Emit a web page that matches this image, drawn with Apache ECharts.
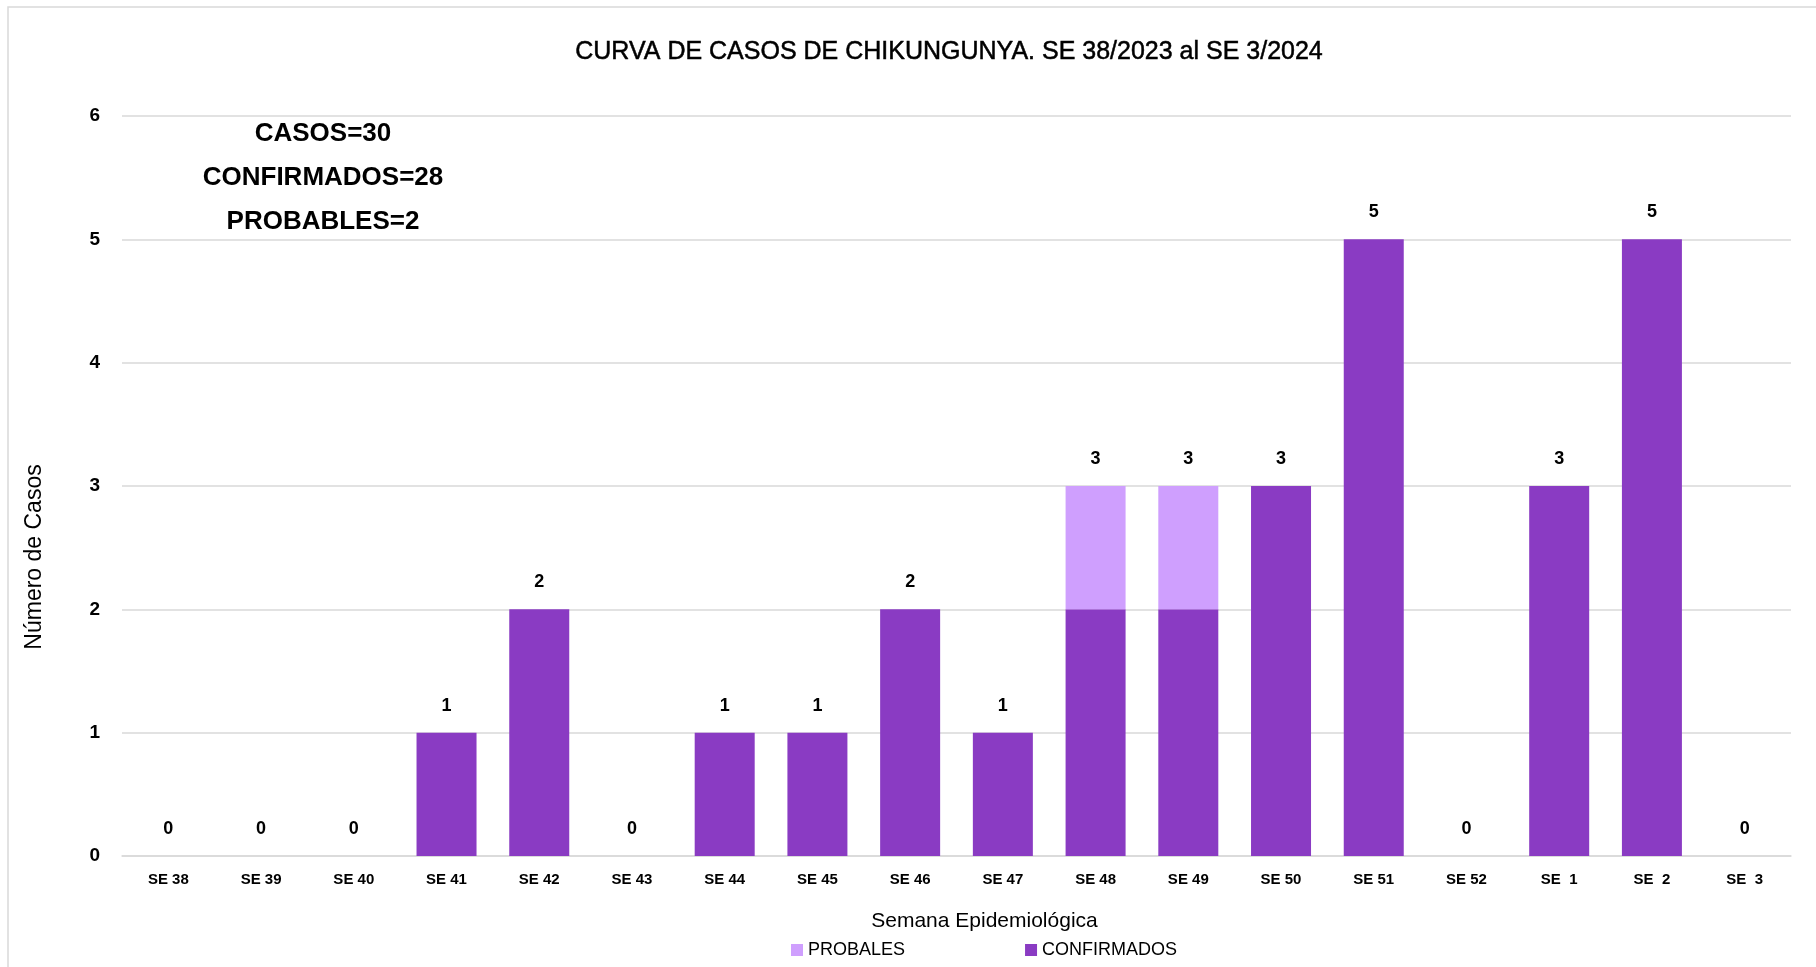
<!DOCTYPE html>
<html>
<head>
<meta charset="utf-8">
<script src="https://cdn.jsdelivr.net/npm/echarts@6/dist/echarts.min.js"></script>
<style>html,body{margin:0;padding:0;background:#fff}#c{width:1816px;height:967px}</style>
</head>
<body>
<div id="c"></div>
<script>
var categories = ['SE 38','SE 39','SE 40','SE 41','SE 42','SE 43','SE 44','SE 45','SE 46','SE 47','SE 48','SE 49','SE 50','SE 51','SE 52','SE  1','SE  2','SE  3'];
var confirmados = [0,0,0,1,2,0,1,1,2,1,2,2,3,5,0,3,5,0];
var probables   = [0,0,0,0,0,0,0,0,0,0,1,1,0,0,0,0,0,0];
var yTicks = [0,1,2,3,4,5,6];
var summaryLines = ['CASOS=30','CONFIRMADOS=28','PROBABLES=2'];

var totals = confirmados.map(function(v,i){return v + probables[i];});
var sans = "'Liberation Sans',Arial,sans-serif";

var chart = echarts.init(document.getElementById('c'));
chart.setOption({
  animation: false,
  backgroundColor: '#fff',
  title: {
    text: 'CURVA DE CASOS DE CHIKUNGUNYA. SE 38/2023 al SE 3/2024',
    left: 944, top: 35, textAlign: 'center',
    textStyle: {fontFamily: sans, fontSize: 25, fontWeight: 'normal', color: '#000',
      textBorderColor: '#000', textBorderWidth: 0.5}
  },
  legend: {
    left: 786, top: 936,
    icon: 'rect', itemWidth: 12, itemHeight: 12, itemGap: 120,
    data: ['PROBALES','CONFIRMADOS'],
    textStyle: {fontFamily: sans, fontSize: 18, color: '#000'}
  },
  grid: {left: 122, right: 25, top: 116, bottom: 111},
  xAxis: {
    type: 'category', data: categories,
    name: 'Semana Epidemiológica', nameLocation: 'middle', nameGap: 55,
    nameTextStyle: {fontFamily: sans, fontSize: 21, color: '#000', padding: [0,0,0,56]},
    axisLine: {lineStyle: {color: '#d9d9d9', width: 1.5}},
    axisTick: {show: false},
    axisLabel: {fontFamily: sans, fontSize: 15, fontWeight: 'bold', color: '#000', margin: 16, interval: 0}
  },
  yAxis: {
    type: 'value', min: yTicks[0], max: yTicks[yTicks.length-1], interval: 1,
    name: 'Número de Casos', nameLocation: 'middle', nameGap: 76,
    nameTextStyle: {fontFamily: sans, fontSize: 23, color: '#000', padding: [0,142,0,0]},
    axisLine: {show: false}, axisTick: {show: false},
    splitLine: {lineStyle: {color: '#d9d9d9', width: 1.5}},
    axisLabel: {fontFamily: sans, fontSize: 19, fontWeight: 'bold', color: '#000', margin: 22}
  },
  graphic: [
    {type: 'rect', silent: true, z: -1, shape: {x: 8, y: 7, width: 1900, height: 1000},
     style: {fill: 'none', stroke: '#d9d9d9', lineWidth: 1.5}},
    {type: 'text', x: 323, y: 112, style: {
      text: summaryLines.join('\n'), align: 'center', verticalAlign: 'top',
      fontFamily: sans, fontSize: 26, fontWeight: 'bold', lineHeight: 44, fill: '#000'}}
  ],
  series: [
    {name: 'CONFIRMADOS', type: 'bar', stack: 'total', data: confirmados, barWidth: 60,
     itemStyle: {color: '#8a3bc3'}},
    {name: 'PROBALES', type: 'bar', stack: 'total', data: probables, barWidth: 60,
     itemStyle: {color: '#cf9ffe'},
     label: {show: true, position: 'top', distance: 18,
       formatter: function(p){return totals[p.dataIndex];},
       fontFamily: sans, fontSize: 18, fontWeight: 'bold', color: '#000'}}
  ]
});
</script>
</body>
</html>
